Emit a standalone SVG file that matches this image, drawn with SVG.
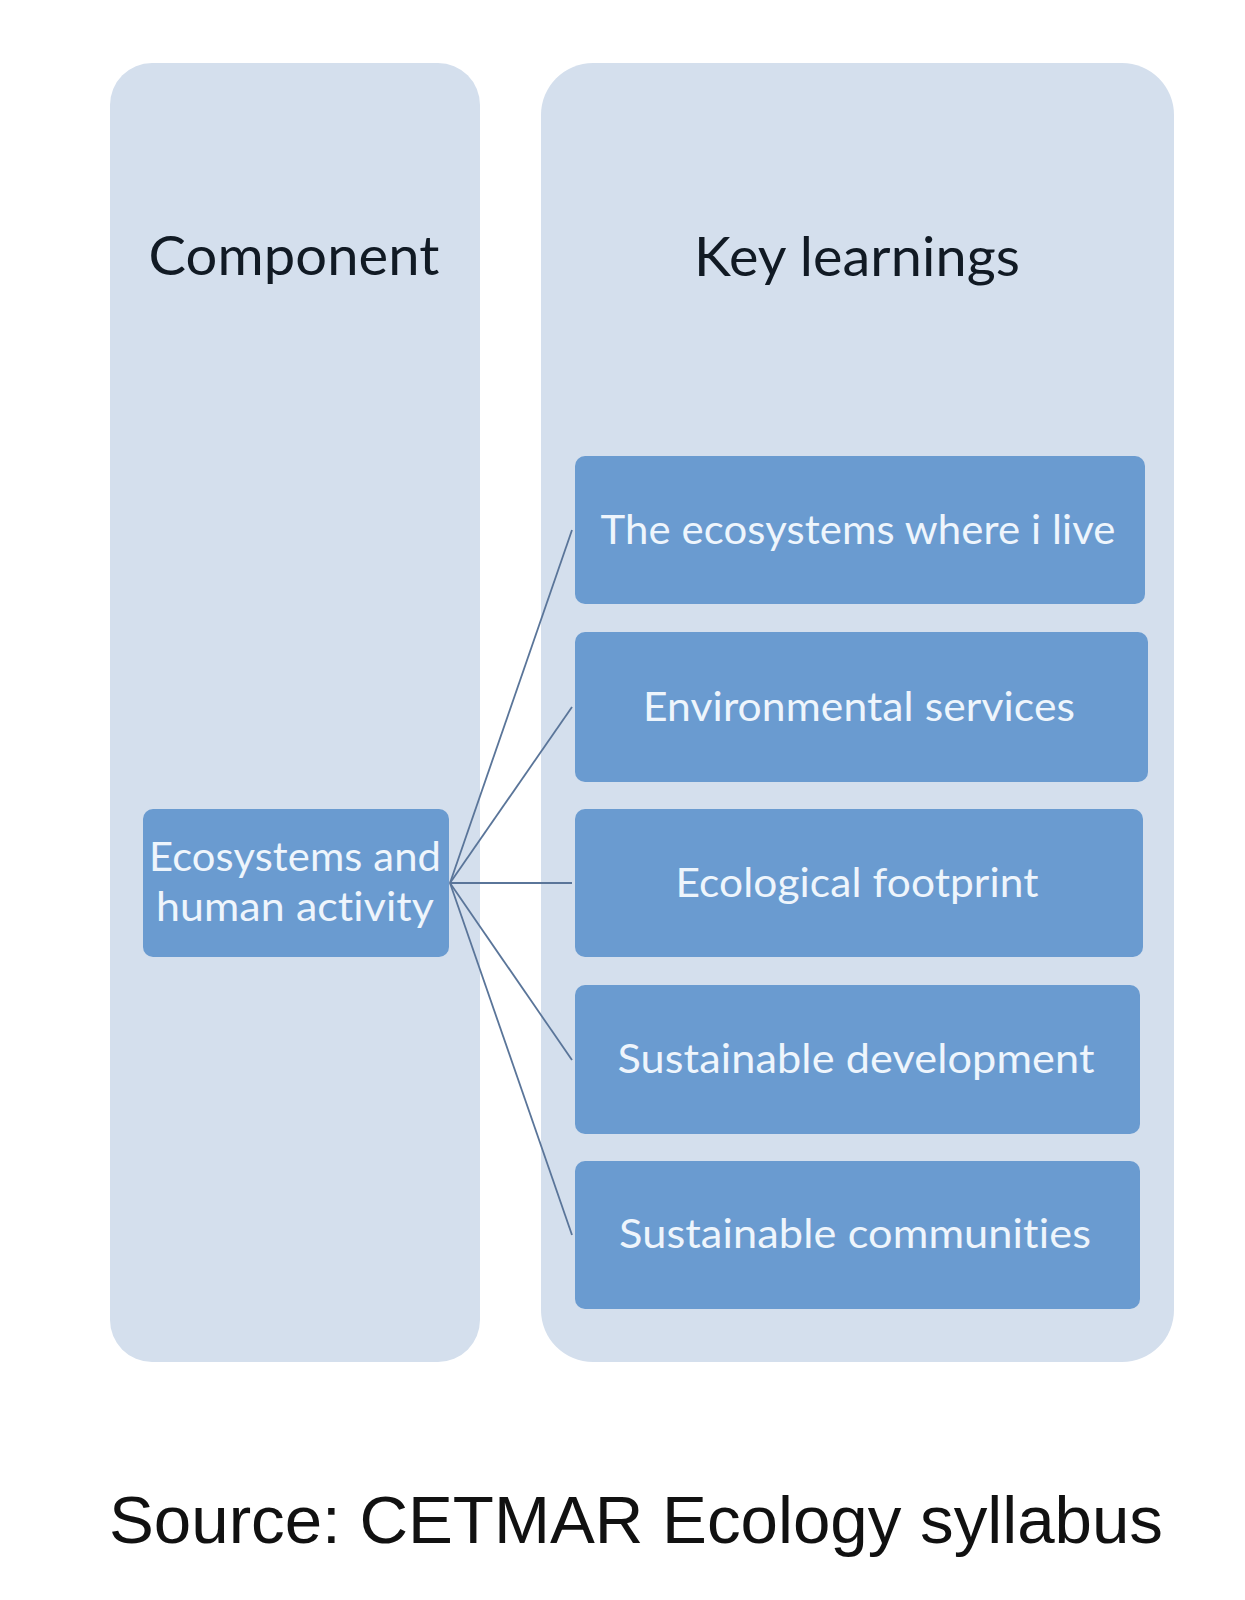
<svg xmlns="http://www.w3.org/2000/svg" width="1245" height="1600" viewBox="0 0 1245 1600">
<style>
.panel{fill:#d4dfed}
.box{fill:#6a9bd0}
.head{font-family:Lato,"Open Sans",sans-serif;font-size:54px;fill:#111a24;text-anchor:middle;font-variant-ligatures:none;font-feature-settings:"liga" 0,"clig" 0,"dlig" 0;letter-spacing:0.1px}
.lbl{font-family:Lato,"Open Sans",sans-serif;font-size:40px;fill:#eef5fc;text-anchor:middle;font-variant-ligatures:none;font-feature-settings:"liga" 0,"clig" 0,"dlig" 0;letter-spacing:0.1px}
.conn{stroke:#5a7599;stroke-width:1.8;fill:none}
.src{font-family:"Liberation Sans",Arial,sans-serif;font-size:67px;fill:#111;text-anchor:middle}
</style>
<rect width="1245" height="1600" fill="#ffffff"/>
<g id="panel-component">
<rect class="panel" x="110" y="63" width="370" height="1299" rx="42"/>
<text class="head" x="294" y="275" textLength="291" lengthAdjust="spacingAndGlyphs">Component</text>
</g>
<g id="panel-key-learnings">
<rect class="panel" x="541" y="63" width="633" height="1299" rx="52"/>
<text class="head" x="857" y="276" textLength="326" lengthAdjust="spacingAndGlyphs">Key learnings</text>
</g>
<g id="connectors">
<line class="conn" x1="450" y1="883" x2="572" y2="530"/>
<line class="conn" x1="450" y1="883" x2="572" y2="707"/>
<line class="conn" x1="450" y1="883" x2="572" y2="883"/>
<line class="conn" x1="450" y1="883" x2="572" y2="1060"/>
<line class="conn" x1="450" y1="883" x2="572" y2="1235"/>
</g>
<g id="node-ecosystems-human-activity">
<rect class="box" x="143" y="809" width="306" height="148" rx="10"/>
<text class="lbl" x="295" y="871" textLength="292" lengthAdjust="spacingAndGlyphs">Ecosystems and</text>
<text class="lbl" x="295" y="921" textLength="278" lengthAdjust="spacingAndGlyphs">human activity</text>
</g>
<g id="node-ecosystems-where-i-live">
<rect class="box" x="575" y="456" width="570" height="148" rx="10"/>
<text class="lbl" x="858" y="544" textLength="515" lengthAdjust="spacingAndGlyphs">The ecosystems where i live</text>
</g>
<g id="node-environmental-services">
<rect class="box" x="575" y="632" width="573" height="150" rx="10"/>
<text class="lbl" x="859" y="721" textLength="432" lengthAdjust="spacingAndGlyphs">Environmental services</text>
</g>
<g id="node-ecological-footprint">
<rect class="box" x="575" y="809" width="568" height="148" rx="10"/>
<text class="lbl" x="857" y="897" textLength="363" lengthAdjust="spacingAndGlyphs">Ecological footprint</text>
</g>
<g id="node-sustainable-development">
<rect class="box" x="575" y="985" width="565" height="149" rx="10"/>
<text class="lbl" x="856" y="1073" textLength="477" lengthAdjust="spacingAndGlyphs">Sustainable development</text>
</g>
<g id="node-sustainable-communities">
<rect class="box" x="575" y="1161" width="565" height="148" rx="10"/>
<text class="lbl" x="855" y="1248" textLength="472" lengthAdjust="spacingAndGlyphs">Sustainable communities</text>
</g>
<text class="src" x="636" y="1543" textLength="1054" lengthAdjust="spacingAndGlyphs">Source: CETMAR Ecology syllabus</text>
</svg>
